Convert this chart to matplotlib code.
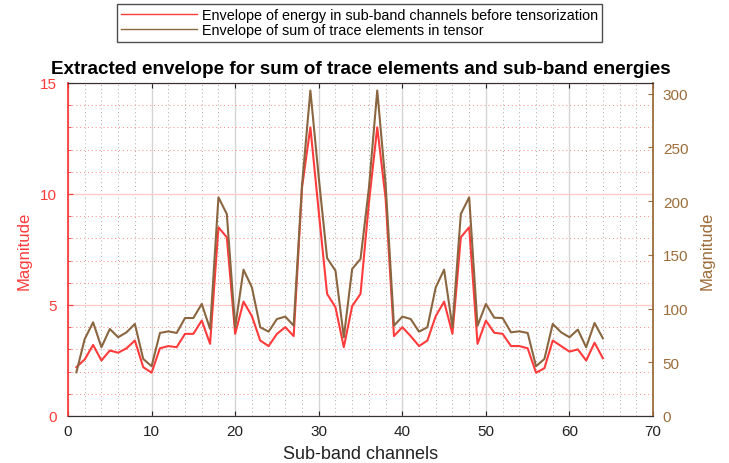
import numpy as np
import matplotlib
matplotlib.use("Agg")
import matplotlib.pyplot as plt
from matplotlib.ticker import MultipleLocator

plt.rcParams["font.family"] = ["Liberation Sans", "DejaVu Sans"]

channels = np.arange(1, 65)

energy = [2.2, 2.55, 3.2, 2.5, 2.95, 2.85, 3.05, 3.4, 2.2, 1.95,
          3.05, 3.15, 3.1, 3.7, 3.7, 4.3, 3.25, 8.5, 8.05, 3.7,
          5.15, 4.5, 3.4, 3.15, 3.7, 4.0, 3.6, 10.3, 13.0, 9.2,
          5.5, 4.9, 3.1, 4.95, 5.5, 9.6, 13.0, 9.8, 3.6, 4.0,
          3.6, 3.15, 3.4, 4.5, 5.15, 3.7, 8.05, 8.5, 3.25, 4.3,
          3.75, 3.7, 3.15, 3.15, 3.05, 1.95, 2.15, 3.4, 3.15, 2.9,
          3.0, 2.5, 3.3, 2.6]

trace_sum = [40.7, 71.7, 87.2, 64, 81, 73.3, 77.9, 85.7, 53.1, 46.3,
             77.3, 78.8, 77.3, 91.2, 91.2, 104.3, 81, 203.6, 188, 82.6,
             136.2, 119.8, 82.6, 78.5, 90.3, 92.5, 84.1, 215, 303, 222,
             147, 135.3, 73.3, 136.9, 146.2, 212, 303, 216, 84.1, 92.5,
             90.3, 78.5, 82.6, 119.8, 136.2, 82.6, 188, 203.6, 84, 104.3,
             91.5, 91.2, 77.9, 78.8, 77.3, 46.3, 53.1, 85.7, 77.9, 73.3,
             80.4, 64, 86.6, 72.3]

red = "#ff3b3b"
brown = "#8a6640"
brown_ax = "#9c6c3a"

fig = plt.figure(figsize=(7.29, 4.64), dpi=100)
ax = fig.add_axes([0.0933, 0.1013, 0.8025, 0.7177])
ax2 = ax.twinx()

l1, = ax.plot(channels, energy, color=red, lw=1.5,
              label="Envelope of energy in sub-band channels before tensorization")
l2, = ax2.plot(channels, trace_sum, color=brown, lw=1.5,
               label="Envelope of sum of trace elements in tensor")

ax.set_xlim(0, 70)
ax.set_ylim(0, 15)
ax2.set_ylim(0, 310)

ax.xaxis.set_major_locator(MultipleLocator(10))
ax.xaxis.set_minor_locator(MultipleLocator(2))
ax.yaxis.set_major_locator(MultipleLocator(5))
ax.yaxis.set_minor_locator(MultipleLocator(1))
ax2.yaxis.set_major_locator(MultipleLocator(50))

# grid
ax.grid(which="major", axis="x", color="#d4d4d4", lw=1)
ax.grid(which="minor", axis="x", color="#aaaaaa", ls=(0, (1, 3)), lw=0.7)
ax.grid(which="major", axis="y", color="#ffcccc", lw=1)
ax.grid(which="minor", axis="y", color="#ff8a8a", ls=(0, (1, 3)), lw=0.7)
ax.set_axisbelow(True)

ax.tick_params(axis="x", which="both", direction="in", top=True, colors="#222222",
               labelsize=11, pad=6)
ax.tick_params(axis="x", which="minor", length=0)
ax.tick_params(axis="y", which="both", direction="in", colors=red, labelsize=11, pad=8)
ax.tick_params(axis="y", which="minor", length=2)
ax2.tick_params(axis="y", direction="in", colors=brown_ax, labelsize=11, pad=7)

ax.spines["left"].set_color(red)
ax.spines["right"].set_visible(False)
ax2.spines["left"].set_visible(False)
ax2.spines["right"].set_color(brown_ax)
ax2.spines["right"].set_linewidth(1.3)
ax.spines["left"].set_linewidth(1.3)
for s in ["top", "bottom"]:
    ax.spines[s].set_color("#333333")
ax2.spines["top"].set_color("#333333")
ax2.spines["bottom"].set_color("#333333")

ax.set_xlabel("Sub-band channels", fontsize=13, color="#222222", labelpad=5)
ax.set_ylabel("Magnitude", fontsize=12, color=red, labelpad=6)
ax2.set_ylabel("Magnitude", fontsize=12, color=brown_ax, labelpad=8)

ax.set_title("Extracted envelope for sum of trace elements and sub-band energies",
             fontsize=13.6, fontweight="bold", pad=7)

leg = fig.legend(handles=[l1, l2], loc="upper center", bbox_to_anchor=(0.493, 0.99),
                 fontsize=10.4, frameon=True, fancybox=False, edgecolor="#222222",
                 handlelength=5.3, handletextpad=0.3, borderpad=0.3,
                 labelspacing=0.1, borderaxespad=0)
leg.get_frame().set_linewidth(1.0)
for ln in leg.get_lines():
    ln.set_linewidth(1.0)

fig.savefig("out.png", dpi=100)
